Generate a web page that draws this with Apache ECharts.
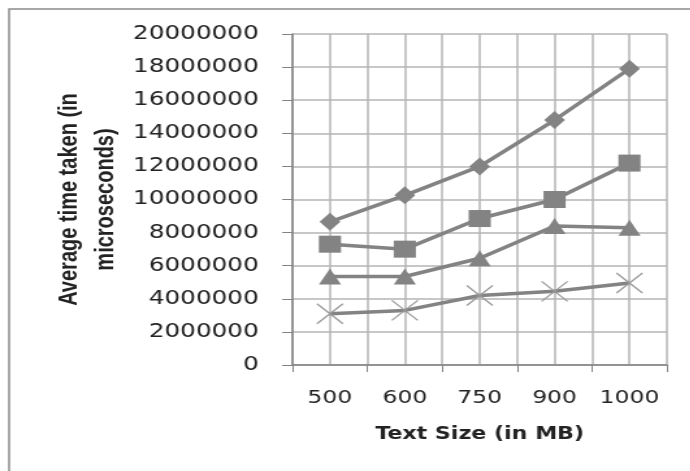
<!DOCTYPE html>
<html>
<head>
<meta charset="utf-8">
<script src="https://cdn.jsdelivr.net/npm/echarts@6/dist/echarts.min.js"></script>
<style>
  html, body { margin: 0; padding: 0; background: #fff; overflow: hidden; }
  /* the reference is a horizontally stretched image, so draw narrow and stretch */
  #chart { width: 531px; height: 471px; transform: scaleX(1.3); transform-origin: 0 0; }
</style>
</head>
<body>
<div id="chart"></div>
<script>
// text sizes on the x axis
const sizes = ['500', '600', '750', '900', '1000']
// average time in microseconds, one list per marker
const diamondSeries = [8650000, 10250000, 12000000, 14800000, 17900000]
const squareSeries = [7300000, 7000000, 8850000, 10000000, 12200000]
const triangleSeries = [5350000, 5350000, 6450000, 8400000, 8300000]
const crossSeries = [3100000, 3300000, 4200000, 4450000, 4950000]
const yTicks = [0, 2000000, 4000000, 6000000, 8000000, 10000000, 12000000, 14000000, 16000000, 18000000, 20000000]

const grey = '#838383'
const gridGrey = '#b4b4b4'

const chart = echarts.init(document.getElementById('chart'))

function lineSeries (name, data, symbol, size, extra) {
  return Object.assign({
    name: name,
    type: 'line',
    data: data,
    symbol: symbol,
    symbolSize: size,
    showAllSymbol: true,
    animation: false,
    lineStyle: { color: grey, width: 3.5 },
    itemStyle: { color: grey, opacity: 1 }
  }, extra || {})
}

const option = {
  backgroundColor: '#fff',
  animation: false,
  graphic: [
    {
      type: 'rect',
      shape: { x: 7, y: 9, width: 700, height: 700 },
      style: { fill: 'none', stroke: '#8c8c8c', lineWidth: 1.5 },
      silent: true
    }
  ],
  grid: { left: 225, right: 18, top: 34, bottom: 106, containLabel: false },
  xAxis: [
    {
      type: 'category',
      data: sizes,
      boundaryGap: true,
      axisLine: { show: true, onZero: false, lineStyle: { color: grey, width: 1.5 } },
      axisTick: { show: true, length: 7, alignWithLabel: false, lineStyle: { color: grey } },
      axisLabel: { interval: 0, margin: 24, fontFamily: 'DejaVu Sans', fontSize: 18, color: '#222' },
      splitLine: { show: false },
      name: 'Text Size (in MB)',
      nameLocation: 'middle',
      nameGap: 61,
      nameMoveOverlap: false,
      nameTextStyle: { fontFamily: 'DejaVu Sans', fontWeight: 'bold', fontSize: 17, color: '#222' }
    },
    {
      // half-category grid lines, as the reference has lines at centres and edges
      type: 'value',
      min: 0,
      max: sizes.length * 2,
      interval: 1,
      show: true,
      position: 'bottom',
      axisLine: { show: false },
      axisTick: { show: false },
      axisLabel: { show: false },
      splitLine: { show: true, lineStyle: { color: gridGrey, width: 1.5 } }
    }
  ],
  yAxis: {
    type: 'value',
    min: yTicks[0],
    max: yTicks[yTicks.length - 1],
    interval: yTicks[1] - yTicks[0],
    axisLine: { show: true, lineStyle: { color: grey, width: 1.5 } },
    axisTick: { show: true, length: 8, lineStyle: { color: grey } },
    axisLabel: {
      margin: 26,
      fontFamily: 'DejaVu Sans',
      fontSize: 19,
      color: '#222',
      formatter: function (v) { return String(v) }
    },
    splitLine: { show: true, lineStyle: { color: gridGrey, width: 1.5 } },
    name: 'Average time taken (in\nmicroseconds)',
    nameLocation: 'middle',
    nameGap: 130,
    nameMoveOverlap: false,
    nameTextStyle: {
      fontFamily: 'Liberation Sans',
      fontWeight: 'bold',
      fontSize: 20,
      lineHeight: 28,
      color: '#222',
      align: 'center'
    }
  },
  series: [
    lineSeries('diamond', diamondSeries, 'diamond', [16, 18]),
    lineSeries('square', squareSeries, 'rect', [17, 17]),
    lineSeries('triangle', triangleSeries, 'triangle', [17, 16]),
    lineSeries('cross', crossSeries, 'path://M0,0L10,10M10,0L0,10', [20, 20], {
      itemStyle: { color: 'none', borderColor: '#9a9a9a', borderWidth: 1.3, opacity: 1 }
    })
  ]
}

chart.setOption(option)
</script>
</body>
</html>
